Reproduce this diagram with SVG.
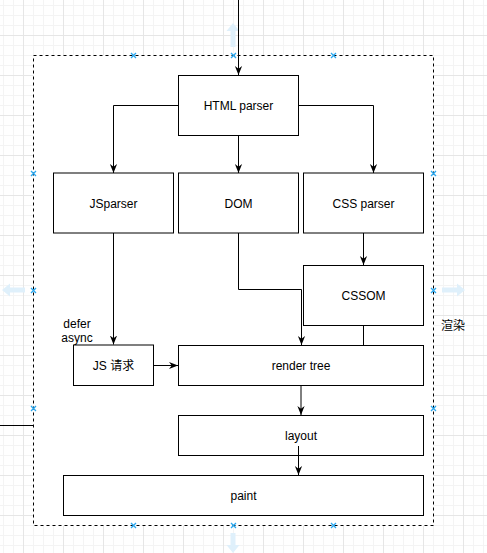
<svg xmlns="http://www.w3.org/2000/svg" width="487" height="553" viewBox="0 0 487 553">
  <defs>
    <pattern id="grid" patternUnits="userSpaceOnUse" x="23" y="35" width="40" height="40">
      <path d="M10.5,0V40M20.5,0V40M30.5,0V40M0,10.5H40M0,20.5H40M0,30.5H40" stroke="#f4f4f4" stroke-width="1" fill="none"/>
      <path d="M0.5,0V40M0,0.5H40" stroke="#e6e6e6" stroke-width="1" fill="none"/>
    </pattern>
    <marker id="arr" markerUnits="userSpaceOnUse" viewBox="0 0 10 10" refX="10" refY="5" markerWidth="9" markerHeight="9" orient="auto">
      <path d="M0,1 L10,5 L0,9 L3,5 Z" fill="#000"/>
    </marker>
    <path id="xm" d="M-2.5,-2.5L2.5,2.5M-2.5,2.5L2.5,-2.5" stroke="#29a8f0" stroke-width="1.3" fill="none"/>
  </defs>
  <style>
    .box{fill:#fff;stroke:#000;stroke-width:1}
    .lbl{font-family:"Liberation Sans",Helvetica,Arial,"Noto Sans CJK SC",sans-serif;font-size:12px;fill:#000;text-anchor:middle;dominant-baseline:central}
    .edge{fill:none;stroke:#000;stroke-width:1}
    .hint{fill:#dff0fb}
  </style>
  <rect width="487" height="553" fill="#fff"/>
  <rect width="487" height="553" fill="url(#grid)"/>

  <g id="container">
    <rect x="33.5" y="55.5" width="400" height="470" fill="#fff" stroke="#000" stroke-width="1" stroke-dasharray="3,3"/>
    <text class="lbl" x="453" y="326">渲染</text>
  </g>

  <g id="hints">
    <path class="hint" d="M233,23 L239.5,31 L235.5,31 L235.5,47 L230.5,47 L230.5,31 L226.5,31 Z"/>
    <path class="hint" d="M233,553 L239.5,545 L235.5,545 L235.5,533 L230.5,533 L230.5,545 L226.5,545 Z"/>
    <path class="hint" d="M2,290 L10,283.5 L10,287.5 L25,287.5 L25,292.5 L10,292.5 L10,296.5 Z"/>
    <path class="hint" d="M465,290 L457,283.5 L457,287.5 L442,287.5 L442,292.5 L457,292.5 L457,296.5 Z"/>
    <use href="#xm" x="133.5" y="55.5"/><use href="#xm" x="233.5" y="55.5"/><use href="#xm" x="333.5" y="55.5"/>
    <use href="#xm" x="133.5" y="525.5"/><use href="#xm" x="233.5" y="525.5"/><use href="#xm" x="333.5" y="525.5"/>
    <use href="#xm" x="33.5" y="173.5"/><use href="#xm" x="433.5" y="173.5"/>
    <use href="#xm" x="33.5" y="290.5"/><use href="#xm" x="433.5" y="290.5"/>
    <use href="#xm" x="33.5" y="408.5"/><use href="#xm" x="433.5" y="408.5"/>
  </g>

  <g id="html-parser"><rect class="box" x="178.5" y="75.5" width="120" height="60"/><text class="lbl" x="238.5" y="105.5">HTML parser</text></g>
  <g id="jsparser"><rect class="box" x="53.5" y="173" width="120" height="60"/><text class="lbl" x="113.5" y="203.5">JSparser</text></g>
  <g id="dom"><rect class="box" x="178.5" y="173" width="120" height="60"/><text class="lbl" x="238.5" y="203.5">DOM</text></g>
  <g id="css-parser"><rect class="box" x="303.5" y="173" width="120" height="60"/><text class="lbl" x="363.5" y="203.5">CSS parser</text></g>
  <g id="cssom"><rect class="box" x="303.5" y="265.5" width="120" height="60"/><text class="lbl" x="363.5" y="295.5">CSSOM</text></g>
  <g id="js-request"><rect class="box" x="73.5" y="345" width="80" height="40.5"/><text class="lbl" x="113.5" y="365.5">JS 请求</text></g>
  <g id="render-tree"><rect class="box" x="178.5" y="345.5" width="245" height="40"/><text class="lbl" x="301" y="365.5">render tree</text></g>
  <g id="layout"><rect class="box" x="178.5" y="415.5" width="245" height="40"/><text class="lbl" x="301" y="435.5">layout</text></g>
  <g id="paint"><rect class="box" x="63.5" y="475.5" width="360" height="40"/><text class="lbl" x="243.5" y="495.5">paint</text></g>
  <g id="defer-label"><text class="lbl" x="77" y="324">defer</text><text class="lbl" x="77" y="338">async</text></g>

  <g id="connectors">
    <path class="edge" d="M238.5,0 V75" marker-end="url(#arr)"/>
    <path class="edge" d="M178.5,105.5 H113.5 V173" marker-end="url(#arr)"/>
    <path class="edge" d="M238.5,135.5 V173" marker-end="url(#arr)"/>
    <path class="edge" d="M298.5,105.5 H373.5 V173" marker-end="url(#arr)"/>
    <path class="edge" d="M363.5,233 V265" marker-end="url(#arr)"/>
    <path class="edge" d="M238.5,233 V289.5 H301.5 V345" marker-end="url(#arr)"/>
    <path class="edge" d="M363.5,325.5 V345.5"/>
    <path class="edge" d="M113.5,233 V344.5" marker-end="url(#arr)"/>
    <path class="edge" d="M153.5,365.5 H178" marker-end="url(#arr)"/>
    <path class="edge" d="M301,385.5 V415" marker-end="url(#arr)"/>
    <path class="edge" d="M298.5,446 V475" marker-end="url(#arr)"/>
    <path class="edge" d="M0,425.5 H33.5"/>
  </g>
</svg>
